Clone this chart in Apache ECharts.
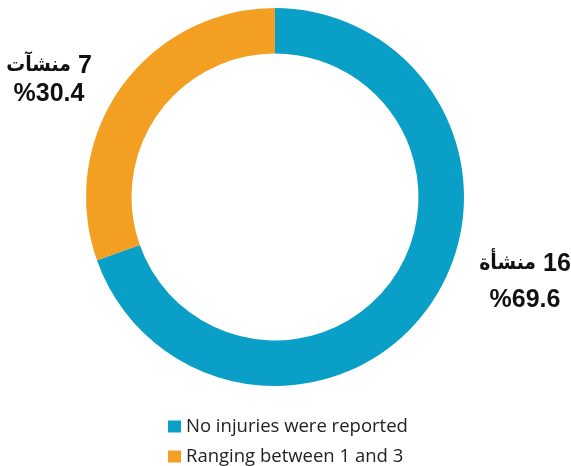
<!DOCTYPE html>
<html dir="ltr">
<head>
<meta charset="utf-8">
<script src="https://cdn.jsdelivr.net/npm/echarts@6/dist/echarts.min.js"></script>
<style>
  html, body { margin: 0; padding: 0; background: #fff; }
  #main { width: 571px; height: 466px; }
</style>
</head>
<body>
<div id="main"></div>
<script>
// data
const categories = ['No injuries were reported', 'Ranging between 1 and 3'];
const counts = [16, 7];
const countWords = ['منشأة', 'منشآت'];
const colors = ['#0a9fc6', '#f3a022'];

const total = counts.reduce((a, b) => a + b, 0);

let myChart = echarts.init(document.getElementById('main'));

function labelStyle(lh) {
  const base = {
    fontFamily: 'Liberation Sans',
    fontWeight: 'bold',
    fontSize: 25,
    lineHeight: lh,
    color: '#111',
    align: 'center'
  };
  return {
    rich: {
      n: base,
      w: Object.assign({}, base, { fontFamily: 'DejaVu Sans Condensed', fontSize: 21 })
    }
  };
}

let option = {
  backgroundColor: '#fff',
  color: colors,
  legend: {
    orient: 'vertical',
    left: 168,
    top: 417,
    padding: 0,
    itemWidth: 13,
    itemHeight: 12,
    itemGap: 11,
    icon: 'rect',
    selectedMode: false,
    textStyle: {
      fontFamily: 'Open Sans',
      fontSize: 18.5,
      lineHeight: 18,
      color: '#222'
    },
    data: categories
  },
  series: [{
    type: 'pie',
    center: [275, 197],
    radius: [143.5, 189],
    startAngle: 90,
    clockwise: true,
    silent: true,
    animation: false,
    label: {
      show: true,
      position: 'outside',
      overflow: 'none',
      width: 200,
      formatter: function (p) {
        const pct = (p.value / total * 100).toFixed(1);
        // word first, number after: tokens are drawn left to right
        return '{w|' + countWords[p.dataIndex] + '}{n| ' + p.value + '}\n{n|%' + pct + '}';
      }
    },
    labelLine: { show: false },
    labelLayout: function (params) {
      // place labels beside the ring like the original
      if (params.dataIndex === 0) {
        return { x: 525, y: 282, align: 'center', verticalAlign: 'middle' };
      }
      return { x: 49, y: 80, align: 'center', verticalAlign: 'middle' };
    },
    data: categories.map((name, i) => ({
      name: name,
      value: counts[i],
      label: labelStyle(i === 0 ? 36 : 28)
    }))
  }]
};

myChart.setOption(option);
</script>
</body>
</html>
